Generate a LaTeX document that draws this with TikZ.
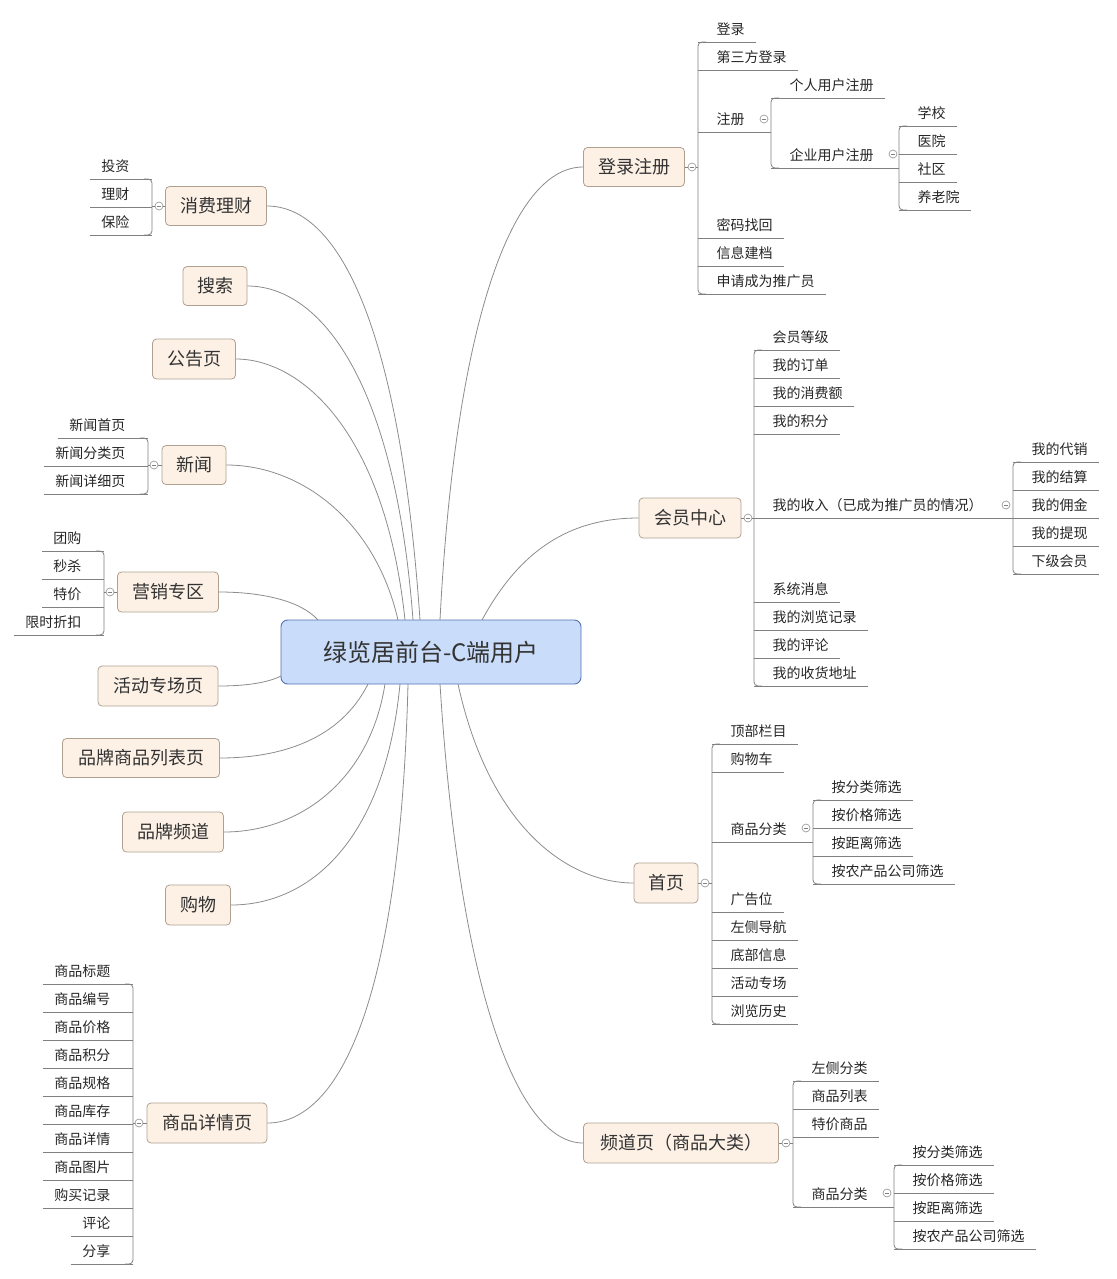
\documentclass[tikz,border=0pt]{standalone}
\usepackage{fontspec}
\setmainfont{Noto Sans CJK SC}
\definecolor{rootfill}{RGB}{201,220,250}
\definecolor{rootdraw}{RGB}{85,115,180}
\definecolor{bfill}{RGB}{253,241,230}
\definecolor{bdraw}{RGB}{175,160,145}
\begin{document}
\begin{tikzpicture}[x=0.75pt,y=-0.75pt,
  leaf/.style={inner xsep=8.5pt,inner ysep=4.5pt,font=\fontsize{10.5pt}{12pt}\selectfont,text=black!85},
  uline/.style={draw=black!50,line width=0.6pt},
  curv/.style={draw=black!45,line width=0.6pt},
  bstyle/.style={draw=bdraw,fill=bfill,rounded corners=3pt,line width=0.6pt,font=\fontsize{13.5pt}{15pt}\selectfont,text=black!80},
  rootstyle/.style={draw=rootdraw,fill=rootfill,rounded corners=5pt,line width=0.7pt,font=\fontsize{18pt}{20pt}\selectfont,text=black!80},
  collc/.style={circle,draw=black!40,fill=white,minimum size=6pt,inner sep=0pt,line width=0.5pt,
    path picture={\draw[black!50,line width=0.5pt] ([xshift=1.3pt]path picture bounding box.west) -- ([xshift=-1.3pt]path picture bounding box.east);}}]
\useasboundingbox (0,0) rectangle (1117,1279);
\newcounter{lf}
\newcommand\rleaf[3]{\stepcounter{lf}\edef\lfname{lf\arabic{lf}}\node[leaf,anchor=south west] (\lfname) at (#1+7,#2) {#3}; \draw[uline] (#1,#2) -- (\lfname.south east);}
\newcommand\lleaf[3]{\stepcounter{lf}\edef\lfname{lf\arabic{lf}}\node[leaf,anchor=south east] (\lfname) at (#1-11,#2) {#3}; \draw[uline] (#1,#2) -- (\lfname.south west);}
\newcommand\rbrk[3]{\draw[uline,rounded corners=3pt] (#1+8,#2) -- (#1,#2) -- (#1,#3) -- (#1+8,#3);}
\newcommand\lbrk[3]{\draw[uline,rounded corners=3pt] (#1-8,#2) -- (#1,#2) -- (#1,#3) -- (#1-8,#3);}
\newcommand\bbox[6]{\node[bstyle,minimum width=#4*0.75pt,minimum height=#5*0.75pt,inner sep=0pt] (#1) at (#2,#3) {#6};}

% branch boxes
\bbox{dl}{634}{167}{101}{39}{登录注册}
\bbox{hy}{690}{518}{102}{40}{会员中心}
\bbox{sy}{666}{883}{64}{40}{首页}
\bbox{pd}{681}{1143}{195}{40}{频道页（商品大类）}
\bbox{xf}{216}{206}{101}{39}{消费理财}
\bbox{ss}{215}{286}{64}{39}{搜索}
\bbox{gg}{194}{359}{83}{40}{公告页}
\bbox{xw}{194}{465}{64}{39}{新闻}
\bbox{yx}{168}{592}{101}{40}{营销专区}
\bbox{hd}{158}{686}{120}{40}{活动专场页}
\bbox{pp}{141}{758}{157}{39}{品牌商品列表页}
\bbox{pc}{173}{832}{101}{40}{品牌频道}
\bbox{gw}{198}{905}{65}{40}{购物}
\bbox{xq}{207}{1123}{120}{40}{商品详情页}

% curves
\draw[curv] (440,620) .. controls (455,330) and (510,167) .. (dl.west);
\draw[curv] (482,620) .. controls (520,550) and (570,518) .. (hy.west);
\draw[curv] (458,684) .. controls (490,830) and (570,883) .. (sy.west);
\draw[curv] (440,684) .. controls (460,1000) and (520,1143) .. (pd.west);
\draw[curv] (420,620) .. controls (400,330) and (340,206) .. (xf.east);
\draw[curv] (413,620) .. controls (395,380) and (320,286) .. (ss.east);
\draw[curv] (405,620) .. controls (385,430) and (300,359) .. (gg.east);
\draw[curv] (398,620) .. controls (375,520) and (300,465) .. (xw.east);
\draw[curv] (318,620) .. controls (300,600) and (260,592) .. (yx.east);
\draw[curv] (281,676) .. controls (265,684) and (240,686) .. (hd.east);
\draw[curv] (368,684) .. controls (340,740) and (280,758) .. (pp.east);
\draw[curv] (385,684) .. controls (370,780) and (300,832) .. (pc.east);
\draw[curv] (400,684) .. controls (385,840) and (310,905) .. (gw.east);
\draw[curv] (408,684) .. controls (400,1000) and (340,1123) .. (xq.east);
% root on top
\node[rootstyle,minimum width=300*0.75pt,minimum height=64*0.75pt] (root) at (431,652) {绿览居前台-C端用户};

% 登录注册
\rbrk{698}{42}{294}
\node[collc] (c1) at (692,167) {};
\draw[uline] (dl.east) -- (c1) -- (698,167);
\rleaf{698}{42}{登录}
\rleaf{698}{70}{第三方登录}
\draw[uline] (698,132) -- (771,132);
\node[leaf,anchor=south west] (zc) at (705,132) {注册};
\node[collc] (c2) at (764,119) {};
\rbrk{771}{98}{168}
\rleaf{771}{98}{个人用户注册}
\draw[uline] (771,168) -- (899,168);
\node[leaf,anchor=south west] (qy) at (778,168) {企业用户注册};
\node[collc] (c3) at (893,154) {};
\rbrk{899}{126}{210}
\rleaf{899}{126}{学校}
\rleaf{899}{154}{医院}
\rleaf{899}{182}{社区}
\rleaf{899}{210}{养老院}
\rleaf{698}{238}{密码找回}
\rleaf{698}{266}{信息建档}
\rleaf{698}{294}{申请成为推广员}

% 会员中心
\rbrk{754}{350}{686}
\node[collc] (c4) at (748,518) {};
\draw[uline] (hy.east) -- (c4) -- (754,518);
\rleaf{754}{350}{会员等级}
\rleaf{754}{378}{我的订单}
\rleaf{754}{406}{我的消费额}
\rleaf{754}{434}{我的积分}
\draw[uline] (754,518) -- (1013,518);
\node[leaf,anchor=south west] (sr) at (761,518) {我的收入（已成为推广员的情况）};
\node[collc] (c5) at (1006,505) {};
\rbrk{1013}{462}{574}
\rleaf{1013}{462}{我的代销}
\rleaf{1013}{490}{我的结算}
\rleaf{1013}{518}{我的佣金}
\rleaf{1013}{546}{我的提现}
\rleaf{1013}{574}{下级会员}
\rleaf{754}{602}{系统消息}
\rleaf{754}{630}{我的浏览记录}
\rleaf{754}{658}{我的评论}
\rleaf{754}{686}{我的收货地址}

% 首页
\rbrk{712}{744}{1024}
\node[collc] (c6) at (705,883) {};
\draw[uline] (sy.east) -- (c6) -- (712,883);
\rleaf{712}{744}{顶部栏目}
\rleaf{712}{772}{购物车}
\draw[uline] (712,842) -- (813,842);
\node[leaf,anchor=south west] (fl1) at (719,842) {商品分类};
\node[collc] (c7) at (806,828) {};
\rbrk{813}{800}{884}
\rleaf{813}{800}{按分类筛选}
\rleaf{813}{828}{按价格筛选}
\rleaf{813}{856}{按距离筛选}
\rleaf{813}{884}{按农产品公司筛选}
\rleaf{712}{912}{广告位}
\rleaf{712}{940}{左侧导航}
\rleaf{712}{968}{底部信息}
\rleaf{712}{996}{活动专场}
\rleaf{712}{1024}{浏览历史}

% 频道页
\rbrk{793}{1081}{1207}
\node[collc] (c8) at (786,1143) {};
\draw[uline] (pd.east) -- (c8) -- (793,1143);
\rleaf{793}{1081}{左侧分类}
\rleaf{793}{1109}{商品列表}
\rleaf{793}{1137}{特价商品}
\draw[uline] (793,1207) -- (894,1207);
\node[leaf,anchor=south west] (fl2) at (800,1207) {商品分类};
\node[collc] (c9) at (887,1193) {};
\rbrk{894}{1165}{1249}
\rleaf{894}{1165}{按分类筛选}
\rleaf{894}{1193}{按价格筛选}
\rleaf{894}{1221}{按距离筛选}
\rleaf{894}{1249}{按农产品公司筛选}

% 消费理财
\lbrk{152}{179}{235}
\node[collc] (c10) at (159,206) {};
\draw[uline] (xf.west) -- (c10) -- (152,206);
\lleaf{152}{179}{投资}
\lleaf{152}{207}{理财}
\lleaf{152}{235}{保险}

% 新闻
\lbrk{148}{438}{494}
\node[collc] (c11) at (154,465) {};
\draw[uline] (xw.west) -- (c11) -- (148,465);
\lleaf{148}{438}{新闻首页}
\lleaf{148}{466}{新闻分类页}
\lleaf{148}{494}{新闻详细页}

% 营销专区
\lbrk{104}{551}{635}
\node[collc] (c12) at (110,592) {};
\draw[uline] (yx.west) -- (c12) -- (104,592);
\lleaf{104}{551}{团购}
\lleaf{104}{579}{秒杀}
\lleaf{104}{607}{特价}
\lleaf{104}{635}{限时折扣}

% 商品详情页
\lbrk{133}{984}{1264}
\node[collc] (c13) at (139,1123) {};
\draw[uline] (xq.west) -- (c13) -- (133,1123);
\lleaf{133}{984}{商品标题}
\lleaf{133}{1012}{商品编号}
\lleaf{133}{1040}{商品价格}
\lleaf{133}{1068}{商品积分}
\lleaf{133}{1096}{商品规格}
\lleaf{133}{1124}{商品库存}
\lleaf{133}{1152}{商品详情}
\lleaf{133}{1180}{商品图片}
\lleaf{133}{1208}{购买记录}
\lleaf{133}{1236}{评论}
\lleaf{133}{1264}{分享}
\end{tikzpicture}
\end{document}
